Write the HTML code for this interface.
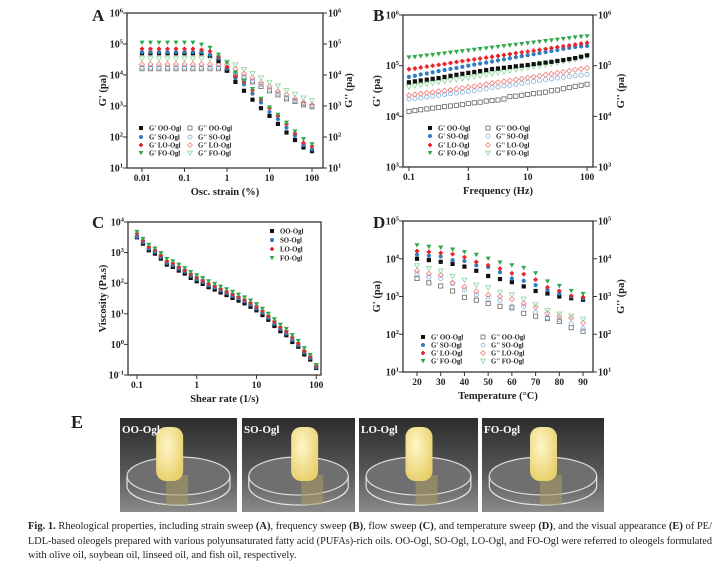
<!DOCTYPE html>
<html><head><meta charset="utf-8"><style>
body{margin:0;background:#fff}
svg text{font-family:"Liberation Serif",serif}
</style></head><body>
<svg id="fig" width="727" height="570" viewBox="0 0 727 570" xmlns="http://www.w3.org/2000/svg">
<defs>
<linearGradient id="bg" x1="0" y1="0" x2="0" y2="1"><stop offset="0" stop-color="#2c2c2c"/><stop offset="0.55" stop-color="#555"/><stop offset="1" stop-color="#8a8a8a"/></linearGradient>
<radialGradient id="gel" cx="0.4" cy="0.35" r="0.7"><stop offset="0" stop-color="#fff6c8"/><stop offset="1" stop-color="#e8cf6a"/></radialGradient>
</defs>
<g id="plots"></g>
<g id="photos"></g>
<g font-size="10.5" fill="#222">
<text x="28" y="529" textLength="684" lengthAdjust="spacingAndGlyphs"><tspan font-weight="bold">Fig. 1.</tspan> Rheological properties, including strain sweep <tspan font-weight="bold">(A)</tspan>, frequency sweep <tspan font-weight="bold">(B)</tspan>, flow sweep <tspan font-weight="bold">(C)</tspan>, and temperature sweep <tspan font-weight="bold">(D)</tspan>, and the visual appearance <tspan font-weight="bold">(E)</tspan> of PE/</text>
<text x="28" y="544" textLength="684" lengthAdjust="spacingAndGlyphs">LDL-based oleogels prepared with various polyunsaturated fatty acid (PUFAs)-rich oils. OO-Ogl, SO-Ogl, LO-Ogl, and FO-Ogl were referred to oleogels formulated</text>
<text x="28" y="558">with olive oil, soybean oil, linseed oil, and fish oil, respectively.</text>
</g>
</svg>
<script>
// ---- Panel A data (strain sweep) ----
const strainA = [0.01,0.0158,0.0251,0.0398,0.0631,0.1,0.158,0.251,0.398,0.631,1,1.58,2.51,3.98,6.31,10,15.8,25.1,39.8,63.1,100];
const gpA_OO = [5e4,5e4,5e4,5e4,5e4,5e4,5e4,5e4,4.2e4,2.8e4,1.4e4,6e3,3.1e3,1.6e3,850,480,265,140,80,46,35];
const gpA_SO = [5.5e4,5.5e4,5.5e4,5.5e4,5.5e4,5.5e4,5.5e4,5.5e4,4.5e4,3.5e4,1.6e4,8e3,5e3,2.5e3,1.3e3,650,380,200,110,55,40];
const gpA_LO = [7e4,7e4,7e4,7e4,7e4,7e4,7e4,6.5e4,5.8e4,4e4,1.8e4,9e3,6e3,3.2e3,1.6e3,850,480,260,130,65,50];
const gpA_FO = [1.1e5,1.1e5,1.1e5,1.1e5,1.1e5,1.1e5,1.1e5,9.5e4,7.5e4,4.5e4,2.5e4,1.2e4,6.5e3,3.5e3,1.7e3,900,520,290,150,85,58];
const gppA_OO = [1.6e4,1.6e4,1.6e4,1.6e4,1.6e4,1.6e4,1.6e4,1.6e4,1.6e4,1.6e4,1.4e4,1e4,8e3,6e3,4.3e3,3.1e3,2.3e3,1.7e3,1.4e3,1.1e3,950];
const gppA_SO = [1.8e4,1.8e4,1.8e4,1.8e4,1.8e4,1.8e4,1.8e4,1.8e4,1.8e4,1.8e4,1.7e4,1.2e4,9e3,6.5e3,5e3,3.5e3,2.6e3,1.9e3,1.5e3,1.2e3,1e3];
const gppA_LO = [2.2e4,2.2e4,2.2e4,2.2e4,2.2e4,2.2e4,2.2e4,2.2e4,2.2e4,2.2e4,2.2e4,1.6e4,1.1e4,8e3,5.5e3,4.2e3,3e3,2.3e3,1.7e3,1.3e3,1.1e3];
const gppA_FO = [3.3e4,3.3e4,3.3e4,3.3e4,3.3e4,3.3e4,3.3e4,3.3e4,3.3e4,3e4,2.6e4,2.1e4,1.5e4,1.1e4,8e3,5.8e3,4.4e3,3.1e3,2.4e3,1.8e3,1.5e3];
// ---- Panel B data (frequency sweep) ----
const freqB = [0.1,0.126,0.158,0.2,0.251,0.316,0.398,0.501,0.631,0.794,1,1.26,1.58,2,2.51,3.16,3.98,5.01,6.31,7.94,10,12.6,15.8,20,25.1,31.6,39.8,50.1,63.1,79.4,100];
const gpB_FO = [145e3,148e3,153e3,158e3,163e3,168e3,174e3,180e3,186e3,192e3,198e3,205e3,212e3,219e3,226e3,234e3,242e3,250e3,258e3,267e3,276e3,285e3,295e3,305e3,315e3,326e3,337e3,348e3,360e3,372e3,380e3];
const gpB_LO = [85e3,88e3,92e3,96e3,100e3,104e3,108e3,113e3,118e3,123e3,128e3,133e3,138e3,144e3,150e3,156e3,162e3,169e3,176e3,183e3,190e3,198e3,206e3,214e3,223e3,232e3,241e3,251e3,261e3,272e3,283e3];
const gpB_SO = [60e3,63e3,67e3,70e3,74e3,78e3,82e3,86e3,90e3,95e3,100e3,105e3,110e3,115e3,121e3,127e3,133e3,140e3,147e3,154e3,161e3,169e3,177e3,186e3,195e3,204e3,214e3,224e3,234e3,240e3,245e3];
const gpB_OO = [47e3,49e3,51e3,53e3,55e3,57e3,60e3,63e3,66e3,69e3,72e3,75e3,78e3,82e3,86e3,88e3,91e3,94e3,97e3,100e3,103e3,107e3,111e3,115e3,119e3,124e3,129e3,135e3,141e3,150e3,160e3];
const gppB_FO = [38e3,40e3,41e3,43e3,45e3,47e3,49e3,51e3,53e3,55e3,57e3,60e3,63e3,66e3,69e3,72e3,75e3,79e3,83e3,87e3,91e3,95e3,99e3,104e3,109e3,114e3,120e3,126e3,132e3,140e3,150e3];
const gppB_LO = [26e3,27e3,28e3,29e3,30e3,31e3,32e3,33e3,35e3,36e3,38e3,39e3,41e3,43e3,45e3,47e3,49e3,51e3,53e3,55e3,58e3,60e3,63e3,66e3,69e3,72e3,75e3,79e3,83e3,86e3,90e3];
const gppB_SO = [22e3,22.5e3,23e3,24e3,25e3,26e3,27e3,28e3,29e3,30e3,31e3,32e3,34e3,35e3,37e3,38e3,40e3,41e3,43e3,45e3,47e3,49e3,51e3,53e3,55e3,57e3,59e3,61e3,63e3,65e3,67e3];
const gppB_OO = [12.5e3,13e3,13.5e3,14e3,14.5e3,15e3,15.5e3,16e3,16.5e3,17e3,18e3,18.5e3,19e3,20e3,20.5e3,21e3,22e3,24.5e3,25e3,26e3,27e3,28e3,29e3,30e3,32e3,33e3,35e3,37e3,39e3,41e3,43e3];
// ---- Panel C data (flow sweep) ----
const shearC = [0.1,0.126,0.158,0.2,0.251,0.316,0.398,0.501,0.631,0.794,1,1.26,1.58,2,2.51,3.16,3.98,5.01,6.31,7.94,10,12.6,15.8,20,25.1,31.6,39.8,50.1,63.1,79.4,100];
const visC_OO = [3162,1963,1191,927,637,406,341,259,207,149,116,95,74,62,50,41,33,27,22,17,13,9.1,6.4,4.0,2.7,2.0,1.2,0.84,0.47,0.32,0.17];
const visC_SO = [3300,2200,1350,1050,720,460,390,300,240,175,135,110,86,72,58,48,39,32,26,20,15,10.8,7.5,4.8,3.2,2.3,1.4,0.95,0.55,0.36,0.18];
const visC_LO = [4200,2500,1550,1200,820,530,450,340,270,200,155,125,98,82,66,54,44,36,29,23,17.5,12.5,8.6,5.6,3.7,2.7,1.7,1.1,0.62,0.4,0.2];
const visC_FO = [4700,2800,1800,1350,950,620,520,400,310,230,180,145,115,95,77,63,52,42,34,27,20.5,14.5,10,6.6,4.4,3.2,2.0,1.3,0.75,0.45,0.21];
// ---- Panel D data (temperature sweep) ----
const tempD = [20,25,30,35,40,45,50,55,60,65,70,75,80,85,90];
const gpD_FO = [2.27e4,2.06e4,1.97e4,1.75e4,1.49e4,1.27e4,1e4,7.9e3,6.7e3,5.7e3,4.1e3,2.5e3,1.9e3,1.4e3,1.17e3];
const gpD_LO = [1.6e4,1.52e4,1.43e4,1.32e4,1.1e4,8.2e3,6.7e3,5.5e3,4.1e3,3.9e3,2.8e3,1.75e3,1.4e3,1.04e3,960];
const gpD_SO = [1.3e4,1.2e4,1.15e4,9.2e3,8.7e3,6.7e3,6e3,4.4e3,3e3,2.6e3,2e3,1.5e3,1.2e3,1e3,900];
const gpD_OO = [1e4,9.2e3,8.3e3,7.3e3,6.2e3,4.8e3,3.5e3,2.9e3,2.4e3,1.85e3,1.4e3,1.2e3,1e3,900,820];
const gppD_FO = [6.5e3,5.5e3,4.7e3,3.4e3,2.7e3,2e3,1.7e3,1.3e3,1.1e3,850,600,420,340,300,250];
const gppD_LO = [4.8e3,4e3,3.7e3,2.3e3,1.8e3,1.35e3,1.1e3,1e3,850,650,520,360,300,270,200];
const gppD_SO = [4e3,3.3e3,3e3,2.2e3,1.5e3,1.1e3,900,800,550,550,380,280,250,190,140];
const gppD_OO = [3e3,2.3e3,1.9e3,1.4e3,950,800,650,550,500,360,300,260,220,150,120];

const NS='http://www.w3.org/2000/svg';
const root=document.getElementById('plots');
function mk(tag,attrs,parent){const e=document.createElementNS(NS,tag);for(const k in attrs)e.setAttribute(k,attrs[k]);(parent||root).appendChild(e);return e;}
function txt(s,x,y,size,anchor,parent,extra){const t=mk('text',Object.assign({x:x,y:y,'font-size':size,'text-anchor':anchor||'middle','font-weight':'bold',fill:'#222'},extra||{}),parent);t.textContent=s;return t;}
function sup(base,exp,x,y,size,anchor,parent){const t=mk('text',{x:x,y:y,'font-size':size,'text-anchor':anchor,'font-weight':'bold',fill:'#222'},parent);t.appendChild(document.createTextNode(base));const s=document.createElementNS(NS,'tspan');s.setAttribute('dy','-4');s.setAttribute('font-size',size*0.65);s.textContent=exp;t.appendChild(s);return t;}

const STY={
 gpOO:{shape:'sq',fill:'#111',stroke:'none'},gpSO:{shape:'ci',fill:'#2f7ec0',stroke:'none'},gpLO:{shape:'pl',fill:'#e8202a',stroke:'none'},gpFO:{shape:'tr',fill:'#2ea84a',stroke:'none'},
 gppOO:{shape:'sq',fill:'none',stroke:'#666'},gppSO:{shape:'ci',fill:'none',stroke:'#7fb0d8'},gppLO:{shape:'di',fill:'none',stroke:'#f07a7a'},gppFO:{shape:'tr',fill:'none',stroke:'#8fd49a'}
};
function marker(st,x,y,r,parent){
 const a={fill:st.fill,stroke:st.stroke,'stroke-width':0.8};
 if(st.shape==='sq')return mk('rect',Object.assign({x:x-r,y:y-r,width:2*r,height:2*r},a),parent);
 if(st.shape==='ci')return mk('circle',Object.assign({cx:x,cy:y,r:r},a),parent);
 if(st.shape==='di')return mk('polygon',Object.assign({points:`${x},${y-r*1.2} ${x+r*1.2},${y} ${x},${y+r*1.2} ${x-r*1.2},${y}`},a),parent);
 if(st.shape==='tr')return mk('polygon',Object.assign({points:`${x-r*1.2},${y-r} ${x+r*1.2},${y-r} ${x},${y+r*1.1}`},a),parent);
 const q=r*0.45;return mk('polygon',Object.assign({points:`${x-q},${y-r} ${x+q},${y-r} ${x+q},${y-q} ${x+r},${y-q} ${x+r},${y+q} ${x+q},${y+q} ${x+q},${y+r} ${x-q},${y+r} ${x-q},${y+q} ${x-r},${y+q} ${x-r},${y-q} ${x-q},${y-q}`},a),parent);
}

function panel(cfg){
 const g=mk('g',{});
 
 
 const {x0,x1,y0,y1}=cfg;
 const sx=cfg.xlog?v=>x0+(Math.log10(v)-cfg.xmin)/(cfg.xmax-cfg.xmin)*(x1-x0):v=>x0+(v-cfg.xmin)/(cfg.xmax-cfg.xmin)*(x1-x0);
 const sy=v=>y1-(Math.log10(v)-cfg.ymin)/(cfg.ymax-cfg.ymin)*(y1-y0);
 const frame=mk('rect',{x:x0,y:y0,width:x1-x0,height:y1-y0,fill:'none',stroke:'#333','stroke-width':1.3},g);
 
 
 for(let e=cfg.ymin;e<=cfg.ymax;e++){
  const y=sy(Math.pow(10,e));
  mk('line',{x1:x0-4,y1:y,x2:x0,y2:y,stroke:'#333','stroke-width':1},g);
  const l=sup('10',String(e),x0-4,y+3.5,10,'end',g);
  
  
  if(cfg.right){
   mk('line',{x1:x1,y1:y,x2:x1+4,y2:y,stroke:'#333','stroke-width':1},g);
   const r=sup('10',String(e),x1+5,y+3.5,10,'start',g);
   
   
  }
 }
 cfg.xticks.forEach((v,i)=>{
  const x=sx(v);
  mk('line',{x1:x,y1:y1,x2:x,y2:y1+4,stroke:'#333','stroke-width':1},g);
  const t=txt(cfg.xtickLabels[i],x,y1+13,9.5,'middle',g);
  
  
 });
 const xt=txt(cfg.xtitle,(x0+x1)/2,y1+27,10.5,'middle',g);
 
 
 const yt=txt(cfg.ytitle,0,0,10.5,'middle',g,{transform:`translate(${cfg.ytx},${(y0+y1)/2}) rotate(-90)`});
 
 
 if(cfg.right){
  const yt2=txt("G'' (pa)",0,0,10.5,'middle',g,{transform:`translate(${cfg.ytx2},${(y0+y1)/2}) rotate(-90)`});
  
  
 }
 const L=txt(cfg.letter,cfg.lx,cfg.ly,17,'start',g);
 
 
 cfg.series.forEach(s=>{
  const sg=mk('g',{},g);
  
  
  s.y.forEach((v,i)=>{
   const m=marker(STY[s.style],sx(cfg.x[i]),sy(v),2.1,sg);
   
   
  });
 });
 cfg.legend.forEach(le=>{
  const lg=mk('g',{},g);
  
  
  marker(STY[le.style],le.x,le.y,2.0,lg);
  txt(le.label,le.x+8,le.y+2.5,6.8,'start',lg);
 });
}
function legend8(c1,c2,ys){
 const k=['OO','SO','LO','FO'],out=[];
 k.forEach((s,i)=>{out.push({style:'gp'+s,label:"G'  "+s+'-Ogl',x:c1,y:ys[i]});out.push({style:'gpp'+s,label:"G''  "+s+'-Ogl',x:c2,y:ys[i]});});
 return out;
}
function ser8(vals){const k=['OO','SO','LO','FO'];const r=[];k.forEach((s,i)=>r.push({key:'gpp-'+s,style:'gpp'+s,y:vals[4+i]}));k.forEach((s,i)=>r.push({key:'gp-'+s,style:'gp'+s,y:vals[i]}));return r;}

panel({name:'panel-a-strain-sweep',letter:'A',lx:92,ly:21,x0:127,x1:323,y0:13,y1:168,xlog:true,xmin:-2.353,xmax:2.259,ymin:1,ymax:6,right:true,
 x:strainA,xticks:[0.01,0.1,1,10,100],xtickLabels:['0.01','0.1','1','10','100'],xtitle:'Osc. strain (%)',ytitle:"G' (pa)",ytx:106,ytx2:352,
 series:ser8([gpA_OO,gpA_SO,gpA_LO,gpA_FO,gppA_OO,gppA_SO,gppA_LO,gppA_FO]),legend:legend8(141,190,[128,137,145,153])});
panel({name:'panel-b-frequency-sweep',letter:'B',lx:373,ly:21,x0:403,x1:593,y0:15,y1:167,xlog:true,xmin:-1.10,xmax:2.10,ymin:3,ymax:6,right:true,
 x:freqB,xticks:[0.1,1,10,100],xtickLabels:['0.1','1','10','100'],xtitle:'Frequency (Hz)',ytitle:"G' (pa)",ytx:380,ytx2:624,
 series:ser8([gpB_OO,gpB_SO,gpB_LO,gpB_FO,gppB_OO,gppB_SO,gppB_LO,gppB_FO]),legend:legend8(430,488,[128,136,145,153])});
panel({name:'panel-c-flow-sweep',letter:'C',lx:92,ly:228,x0:128,x1:321,y0:222,y1:375,xlog:true,xmin:-1.15,xmax:2.08,ymin:-1,ymax:4,right:false,
 x:shearC,xticks:[0.1,1,10,100],xtickLabels:['0.1','1','10','100'],xtitle:'Shear rate (1/s)',ytitle:'Viscosity (Pa.s)',ytx:106,
 series:[{key:'OO',style:'gpOO',y:visC_OO},{key:'SO',style:'gpSO',y:visC_SO},{key:'LO',style:'gpLO',y:visC_LO},{key:'FO',style:'gpFO',y:visC_FO}],
 legend:[{style:'gpOO',label:'OO-Ogl',x:272,y:231},{style:'gpSO',label:'SO-Ogl',x:272,y:240},{style:'gpLO',label:'LO-Ogl',x:272,y:249},{style:'gpFO',label:'FO-Ogl',x:272,y:258}]});
panel({name:'panel-d-temperature-sweep',letter:'D',lx:373,ly:228,x0:403,x1:593,y0:221,y1:372,xlog:false,xmin:14.1,xmax:94.2,ymin:1,ymax:5,right:true,
 x:tempD,xticks:[20,30,40,50,60,70,80,90],xtickLabels:['20','30','40','50','60','70','80','90'],xtitle:'Temperature (°C)',ytitle:"G' (pa)",ytx:380,ytx2:624,
 series:ser8([gpD_OO,gpD_SO,gpD_LO,gpD_FO,gppD_OO,gppD_SO,gppD_LO,gppD_FO]),legend:legend8(423,483,[337,345,353,361])});

// ---- Photos ----
const ph=document.getElementById('photos');
const eL=txt('E',71,428,18,'start',ph);


const photoX=[[120,237],[242,355],[359,478],[482,604]];
const names=['OO-Ogl','SO-Ogl','LO-Ogl','FO-Ogl'];
const gelX=[0.42,0.55,0.5,0.5];
photoX.forEach((p,i)=>{
 const g=mk('g',{},ph);
 
 
 const w=p[1]-p[0];
 mk('rect',{x:p[0],y:418,width:w,height:94,fill:'url(#bg)'},g);
 const cx=p[0]+w/2, gx=p[0]+w*gelX[i];
 mk('ellipse',{cx:cx,cy:476,rx:w*0.44,ry:19,fill:'#6f6f6f',stroke:'#d8d8d8','stroke-width':1.2},g);
 mk('path',{d:`M${cx-w*0.44} 476 L${cx-w*0.44} 486 A${w*0.44} 19 0 0 0 ${cx+w*0.44} 486 L${cx+w*0.44} 476`,fill:'none',stroke:'#e4e4e4','stroke-width':1.2},g);
 mk('rect',{x:gx-3,y:475,width:22,height:30,fill:'#a79a62',opacity:0.6},g);
 mk('rect',{x:gx-13,y:427,width:27,height:54,rx:10,fill:'url(#gel)'},g);
 txt(names[i],p[0]+2,433,11,'start',g,{fill:'#fff'});
});
</script>
</body></html>
